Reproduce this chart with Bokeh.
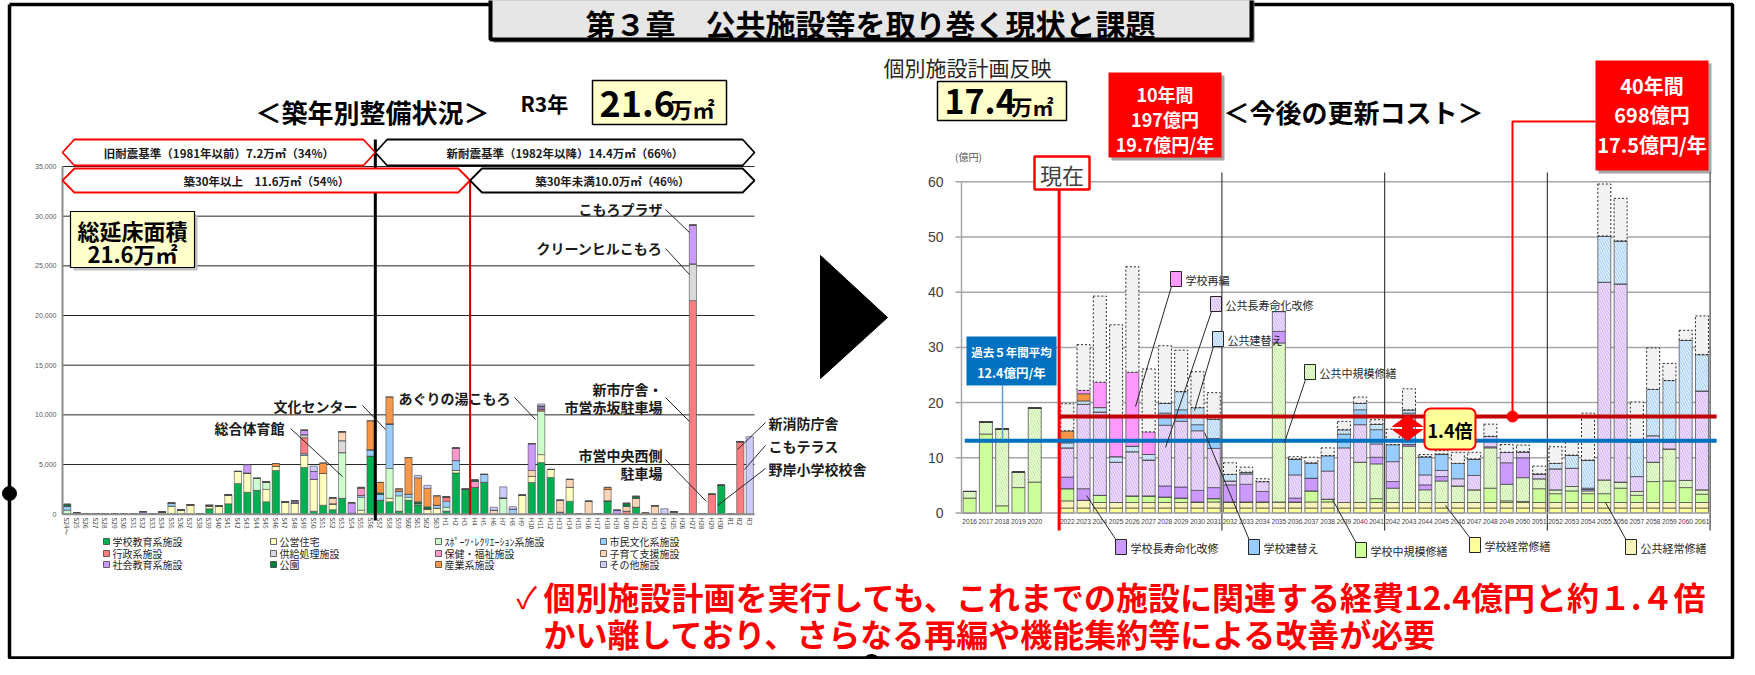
import numpy as np
from bokeh.plotting import figure
from bokeh.models import Range1d, ColumnDataSource
from bokeh.core.properties import value
from bokeh.embed import file_html
from bokeh.resources import INLINE

JP = "Noto Sans CJK JP"
NUM = "Liberation Sans"

# ======================= DATA =======================
# ---- Left chart: 築年別整備状況 (延床面積, ㎡) ----
left_labels = (["S24～"] + ["S%d" % i for i in range(25, 64)]
               + ["H%d" % i for i in range(1, 31)] + ["R1", "R2", "R3"])
left_ticks = [0, 5000, 10000, 15000, 20000, 25000, 30000, 35000]
left_tick_labels = ["0", "5,000", "10,000", "15,000", "20,000", "25,000", "30,000", "35,000"]

school = {"S39": 550, "S41": 1050, "S42": 3100, "S43": 2200, "S44": 2400, "S45": 1250,
          "S46": 4400, "S49": 4700, "S50": 300, "S51": 900, "S52": 450, "S53": 1600,
          "S54": 100, "S56": 5850, "S57": 1400, "S58": 1250, "S59": 300, "S60": 1400,
          "S61": 950, "H1": 300, "H2": 4150, "H3": 2500, "H4": 2700, "H5": 3200,
          "H10": 3200, "H11": 5200, "H12": 3700, "H14": 1300, "H18": 1350, "H21": 700,
          "H30": 2900}
housing = {"S25": 100, "S34": 200, "S35": 800, "S36": 450, "S37": 950, "S39": 300,
           "S40": 850, "S41": 900, "S42": 1200, "S43": 1950, "S45": 1250, "S46": 400,
           "S47": 1250, "S48": 1150, "S49": 1250, "S50": 3200, "S51": 3200, "S52": 600,
           "S55": 400, "S58": 350, "S62": 550, "S63": 600, "H2": 250, "H9": 1900,
           "H10": 600, "H11": 800, "H12": 800, "H14": 1400}
sports = {"S24～": 400, "S44": 1200, "S45": 750, "S53": 4600, "S55": 1300, "S58": 3000,
          "S59": 1550, "S60": 300, "S61": 150, "H1": 400, "H7": 1650, "H11": 4400, "H25": 250}
culture = {"S24～": 400, "S35": 300, "S49": 150, "S55": 200, "S56": 650, "S57": 600,
           "S58": 4500, "S59": 450, "S60": 300, "S63": 300, "H1": 600, "H2": 1000,
           "H5": 800, "H8": 500, "H13": 200}
admin = {"S49": 1600, "H1": 450, "H11": 200, "H20": 300, "H27": 21500, "H29": 2000, "R2": 7300}
supply = {"S49": 300, "S53": 1200, "H27": 3700}
health = {"S55": 700, "H2": 1250, "H4": 600}
childcare = {"S52": 600, "S53": 900, "H6": 400, "H10": 600, "H13": 1200, "H14": 800,
             "H16": 1300, "H18": 1150, "H20": 500, "H21": 900, "H23": 850}
social = {"S32": 250, "S43": 850, "S48": 200, "S49": 450, "S50": 800, "S54": 1050,
          "H10": 2700, "H11": 200, "H19": 400, "H27": 3900}
park = {"S24～": 200, "S39": 50, "S57": 150, "S61": 150, "S62": 200, "H4": 150,
        "H11": 100, "H20": 300, "H21": 200}
industry = {"S46": 300, "S51": 1050, "S55": 100, "S56": 2900, "S57": 1050, "S58": 2700,
            "S59": 250, "S60": 3700, "S61": 2400, "S62": 1850, "S63": 950, "H18": 200, "H22": 150}
other = {"S50": 550, "S61": 250, "S62": 300, "H6": 300, "H7": 1100, "H8": 250,
         "H11": 200, "H24": 550, "H26": 50, "R3": 7800}

left_names = ["学校教育系施設", "公営住宅", "ｽﾎﾟｰﾂ･ﾚｸﾘｴｰｼｮﾝ系施設", "市民文化系施設",
              "行政系施設", "供給処理施設", "保健・福祉施設", "子育て支援施設",
              "社会教育系施設", "公園", "産業系施設", "その他施設"]
left_data = [school, housing, sports, culture, admin, supply, health, childcare,
             social, park, industry, other]
left_colors = ["#00b050", "#ffffc0", "#ccffcc", "#99ccff", "#ff7c80", "#d9d9d9",
               "#ff99cc", "#fcd5b4", "#cc99ff", "#00803c", "#f79646", "#ccccff"]

# ---- Right chart: 今後の更新コスト (億円) ----
r_years = [2016, 2017, 2018, 2019, 2020] + list(range(2022, 2062))
r_ticks = [0, 10, 20, 30, 40, 50, 60]
r_sch_reg = [0, 0, 0, 0, 0,
             0.9, 0.9, 0.9, 0.9, 0.9, 0.9, 0.9, 0.9, 0.9, 0.9,
             0.9, 0.9, 0.9, 0.9, 0.9, 0.9, 0.9, 0.9, 0.9, 0.9,
             0.9, 0.9, 0.9, 0.9, 0.9, 0.9, 0.9, 0.9, 0.9, 0.9,
             0.9, 0.9, 0.9, 0.9, 0.9, 0.9, 0.9, 0.9, 0.9, 0.9]
r_pub_reg = [0, 0, 0, 0, 0,
             1.3, 1.4, 1.0, 1.0, 1.0, 1.0, 1.0, 1.0, 1.1, 1.1,
             1.1, 1.1, 1.1, 1.1, 1.1, 1.1, 1.1, 1.0, 1.0, 1.0,
             1.0, 1.0, 1.0, 1.0, 1.0, 1.0, 1.0, 1.0, 1.0, 1.0,
             1.0, 1.0, 1.0, 1.0, 1.0, 1.0, 1.0, 1.0, 1.0, 1.0]
r_sch_mid = [2.7, 14.3, 1.3, 4.6, 5.6,
             2.2, 0, 1.3, 0, 1.2, 1.2, 1.0, 0.8, 0, 0.6,
             0, 0, 0, 0, 0, 2.0, 0.5, 0, 0, 0.7,
             0, 0, 0, 0, 0, 0, 2.6, 0.3, 0.2, 2.5,
             1.6, 2.1, 1.6, 1.6, 2.6, 1.3, 3.8, 3.9, 2.7, 1.5]
r_pub_mid = [1.2, 2.2, 13.9, 2.8, 13.4,
             0, 0, 0, 0, 0, 0, 0, 0, 0, 0,
             0, 0, 0, 28.8, 0, 0, 0, 0, 7.3, 6.3,
             2.6, 10.2, 2.3, 3.9, 3.0, 2.3, 7.3, 3.0, 4.3, 1.8,
             0.7, 0.8, 0.5, 2.5, 1.1, 0.7, 3.5, 5.8, 1.3, 0.8]
r_sch_long = [0, 0, 0, 0, 0,
              2.1, 2.1, 0, 0, 0, 0, 2.0, 2.0, 2.1, 2.0,
              3.1, 3.2, 1.9, 2.1, 0.7, 2.3, 0, 0, 0, 1.2,
              1.2, 0.3, 0.9, 0.8, 0, 0, 0.2, 3.9, 3.6, 0,
              0, 0, 0.3, 0, 0, 0, 0, 0, 0, 0]
r_pub_long = [0, 0, 0, 0, 0,
              5.3, 15.3, 15.1, 7.3, 8.0, 6.5, 11.0, 11.9, 10.8, 7.1,
              0.7, 1.9, 1.8, 3.6, 4.2, 0, 5.1, 9.9, 6.8, 2.4,
              3.6, 0, 1.8, 1.1, 1.3, 2.6, 1.9, 1.9, 1.1, 0.9,
              3.8, 3.3, 0, 35.8, 35.9, 2.7, 4.8, 1.2, 11.4, 17.9]
r_sch_reb = [0, 0, 0, 0, 0,
             0, 0, 0, 0, 0, 0, 2.2, 2.1, 1.1, 1.8,
             0, 0, 0, 0, 2.9, 2.8, 2.8, 2.5, 2.7, 2.6,
             3.1, 5.7, 3.3, 3.0, 2.8, 3.0, 0, 0, 0, 0,
             0, 0, 0.2, 0, 0, 0, 0, 0.4, 0, 0]
r_pub_reb = [0, 0, 0, 0, 0,
             0.9, 0.6, 0.8, 1.0, 1.0, 1.0, 1.8, 3.3, 3.1, 3.5,
             1.2, 0.3, 0, 0, 0, 0, 0, 0.8, 1.2, 1.0,
             0, 0.6, 0, 0, 0, 0, 0, 0, 0, 0,
             1.0, 2.4, 5.1, 8.4, 7.8, 6.2, 8.4, 10.8, 14.0, 6.6]
r_other = [0, 0, 0, 0, 0,
           2.2, 1.3, 0, 0, 0, 0, 0, 0, 0, 0,
           0, 0, 0, 0, 0, 0, 0, 0, 0, 0,
           0, 0, 0, 0, 0, 0, 0, 0, 0, 0,
           0, 0, 0, 0, 0, 0, 0, 0, 0, 0]
r_reorg = [0, 0, 0, 0, 0,
           0, 0.6, 4.6, 7.2, 13.4, 4.1, 0, 0, 0, 0,
           0, 0, 0, 0, 0, 0, 0, 0, 0, 0,
           0, 0, 0, 0, 0, 0, 0, 0, 0, 0,
           0, 0, 0, 0, 0, 0, 0, 0, 0, 0]
r_plan = [0, 0, 0, 0, 0,
          19.8, 30.5, 39.3, 34.1, 44.6, 26.1, 30.3, 29.5, 25.6, 21.8,
          9.1, 8.3, 6.2, 0, 10.2, 10.1, 11.8, 16.6, 21.0, 16.9,
          15.2, 22.5, 10.6, 11.3, 11.0, 11.0, 16.1, 12.4, 12.3, 8.5,
          12.0, 13.2, 18.1, 59.6, 57.0, 20.1, 29.9, 27.1, 33.1, 35.7]
r_names = ["学校経常修繕", "公共経常修繕", "学校中規模修繕", "公共中規模修繕",
           "学校長寿命化改修", "公共長寿命化改修", "学校建替え", "公共建替え", "その他", "学校再編"]
r_data = [r_sch_reg, r_pub_reg, r_sch_mid, r_pub_mid, r_sch_long, r_pub_long,
          r_sch_reb, r_pub_reb, r_other, r_reorg]
r_fill = ["#ffff99", "#ffffd9", "#ccff99", "#eeffdd", "#cc99ff", "#f0e2ff",
          "#99ccff", "#e2f1ff", "#f79646", "#ff99ff"]
r_hatch = [" ", "\\", " ", "\\", " ", "\\", " ", "\\", " ", " "]
r_hcol = ["#ffff99", "#e6dc78", "#ccff99", "#b5e08a", "#cc99ff", "#c9a3f0",
          "#99ccff", "#8fc2f0", "#f79646", "#ff99ff"]
future_avg = 17.5      # 17.5億円/年
past_avg_line = 13.1   # 過去5年間平均 line (12.4億円/年 label)

# ======================= FIGURE =======================
W, H = 1739, 659
PX0, PY0 = 8, 8
p = figure(width=W, height=H, output_backend="svg", toolbar_location=None,
           x_range=Range1d(PX0, PX0 + W), y_range=Range1d(PY0 + H, PY0),
           x_axis_type=None, y_axis_type=None, min_border=0,
           outline_line_color=None, background_fill_color="white",
           border_fill_color="white")


def span_range(d0, d1, p0, p1, lo, hi):
    k = (d1 - d0) / (p1 - p0)
    return Range1d(start=d0 + (lo - p0) * k, end=d0 + (hi - p0) * k)


n_left = len(left_labels)
p.extra_x_ranges = {"lx": span_range(-0.5, n_left - 0.5, 70, 762, PX0, PX0 + W),
                    "rx": span_range(2015.5, 2061.5, 969, 1717.6, PX0, PX0 + W)}
p.extra_y_ranges = {"ly": span_range(0, 35000, 521.7, 174, PY0 + H, PY0),
                    "ry": span_range(0, 60, 520.5, 189.3, PY0 + H, PY0)}


def T(x, y, s, size, color="#000000", bold=False, align="left", baseline="middle",
      angle=0.0, xr="default", yr="default", font=JP):
    xs = list(np.atleast_1d(np.asarray(x, dtype=float)))
    ys = list(np.atleast_1d(np.asarray(y, dtype=float)))
    ss = [s] if isinstance(s, str) else list(s)
    n = max(len(xs), len(ys), len(ss))
    xs = xs * n if len(xs) == 1 else xs
    ys = ys * n if len(ys) == 1 else ys
    ss = ss * n if len(ss) == 1 else ss
    p.text(x=xs, y=ys, text=ss, text_font=value(font),
           text_font_size=value("%gpx" % size),
           text_font_style="bold" if bold else "normal", text_color=color,
           text_align=align, text_baseline=baseline, angle=angle,
           x_range_name=xr, y_range_name=yr)


def box(l, r, t, b, fill, line=None, lw=1.0, shadow=None, **kw):
    if shadow:
        p.quad(left=[l + 3], right=[r + 3], top=[t + 3], bottom=[b + 3],
               fill_color=shadow, line_color=None)
    p.quad(left=[l], right=[r], top=[t], bottom=[b], fill_color=fill,
           line_color=line, line_width=lw, **kw)


def rrect(l, r, t, b, rad, n=8):
    xs, ys = [], []
    for cx, cy, a0 in [(r - rad, t + rad, -90), (r - rad, b - rad, 0),
                       (l + rad, b - rad, 90), (l + rad, t + rad, 180)]:
        for a in np.linspace(a0, a0 + 90, n):
            xs.append(cx + rad * np.cos(np.radians(a)))
            ys.append(cy + rad * np.sin(np.radians(a)))
    return xs, ys


# ---------------- outer frame & title ----------------
p.line([17, 17, 1740, 1740, 17], [12, 665.5, 665.5, 12, 12], line_color="black", line_width=3.5)
p.circle(x=[17], y=[501], radius=7, fill_color="black", line_color="black")
p.circle(x=[879], y=[671], radius=9, fill_color="black", line_color="black")
box(498, 1259, -6, 47, "#e7e6e6", "black", 4, shadow="#6f6f6f")
T(878, 30, "第３章　公共施設等を取り巻く現状と課題", 30, bold=True, align="center")

# ---------------- left headings ----------------
T(263, 119, "＜築年別整備状況＞", 26, bold=True)
T(528, 110, "R3年", 21, bold=True)
box(600, 734, 88, 132, "#ffffcc", "black", 1.5)
T(607, 111, "21.6", 36, bold=True)
T(678, 115, "万㎡", 22, bold=True)

# ---------------- left chart ----------------
p.segment(x0=[-0.5] * 7, y0=left_ticks[1:], x1=[n_left - 0.5] * 7, y1=left_ticks[1:],
          line_color="#262626", line_width=1, x_range_name="lx", y_range_name="ly")
T(64, left_ticks, left_tick_labels, 7, color="#595959", align="right", yr="ly", font=NUM)

lkeys = ["l%d" % i for i in range(len(left_data))]
lsrc = ColumnDataSource(dict(x=list(range(n_left)),
                             **{k: [d.get(lab, 0) for lab in left_labels]
                                for k, d in zip(lkeys, left_data)}))
p.vbar_stack(lkeys, x="x", width=0.76, source=lsrc, fill_color=left_colors,
             line_color="#4d4d4d", line_width=0.6, x_range_name="lx", y_range_name="ly")

p.segment(x0=[-0.5], y0=[0], x1=[n_left - 0.5], y1=[0], line_color="#8c8c8c",
          line_width=2, x_range_name="lx", y_range_name="ly")
p.segment(x0=[70], y0=[174], x1=[70], y1=[522], line_color="#8c8c8c", line_width=2)

T(list(range(n_left)), 525, left_labels, 6.5, color="#404040", angle=-np.pi / 2,
  xr="lx", baseline="middle")

b_new = left_labels.index("S57") - 0.5      # 1981 / 1982
b_30 = left_labels.index("H4") - 0.5        # 築30年
b_lo, b_hi = -0.5, n_left - 0.5
p.segment(x0=[b_new], y0=[147], x1=[b_new], y1=[528], line_color="black",
          line_width=3, x_range_name="lx")
p.segment(x0=[b_30], y0=[187], x1=[b_30], y1=[522], line_color="#c00000",
          line_width=2, x_range_name="lx")

d_in = 1.25


def hexa(a, b, t, u):
    c = (t + u) / 2
    return [a, a + d_in, b - d_in, b, b - d_in, a + d_in], [c, t, t, c, u, u]


bans = [(b_lo, b_new, 147, 173, "#ff0000", "旧耐震基準（1981年以前）7.2万㎡（34%）"),
        (b_new, b_hi, 147, 173, "#000000", "新耐震基準（1982年以降）14.4万㎡（66%）"),
        (b_lo, b_30, 176, 200, "#ff0000", "築30年以上　11.6万㎡（54%）"),
        (b_30, b_hi, 176, 200, "#000000", "築30年未満10.0万㎡（46%）")]
for a, b, t, u, col, lab in bans:
    hx, hy = hexa(a, b, t, u)
    p.patch(hx, hy, fill_color="white", line_color=col, line_width=1.8, x_range_name="lx")
    T((a + b) / 2, (t + u) / 2, lab, 11.5, color="#1a1a1a", bold=True, align="center", xr="lx")

# 総延床面積 box
box(78, 202, 219, 275, "#ffffcc", "black", 1.2, shadow="#bfbfbf")
T(140, 237, "総延床面積", 22, bold=True, align="center")
T(140, 260, "21.6万㎡", 22, bold=True, align="center")

# annotations
ann_left = [("こもろプラザ", 670, 216, "right"), ("クリーンヒルこもろ", 670, 255, "right"),
            ("文化センター", 365, 413, "right"), ("総合体育館", 292, 435, "right"),
            ("あぐりの湯こもろ", 518, 405, "right"), ("新市庁舎・", 670, 396, "right"),
            ("市営赤坂駐車場", 670, 414, "right"), ("市営中央西側", 670, 462, "right"),
            ("駐車場", 670, 480, "right"), ("新消防庁舎", 776, 430, "left"),
            ("こもテラス", 776, 453, "left"), ("野岸小学校校舎", 776, 476, "left")]
lead_left = [(673, 217, 697, 240), (673, 256, 697, 282), (370, 413, 393, 437),
             (298, 436, 350, 484), (522, 405, 543, 427), (673, 405, 697, 429),
             (673, 467, 714, 509), (773, 430, 745, 457), (773, 453, 752, 477),
             (773, 476, 725, 513)]
p.segment(x0=[l[0] for l in lead_left], y0=[l[1] for l in lead_left],
          x1=[l[2] for l in lead_left], y1=[l[3] for l in lead_left],
          line_color="#262626", line_width=1)
for s, x, y, al in ann_left:
    T(x, y, s, 14, color="#1a1a1a", bold=True, align=al)

# legend (left)
leg_cols = [111, 278, 443, 608]
leg_rows = [549, 561, 572]
for i, (nm, col) in enumerate(zip(left_names, left_colors)):
    r_, c_ = divmod(i, 4)
    x, y = leg_cols[c_], leg_rows[r_]
    box(x, x + 6, y - 3, y + 3, col, "#404040", 0.8)
    T(x + 9, y, nm, 10, color="#262626")

# big arrow
p.patch([828, 895, 828], [263, 325, 386], fill_color="black", line_color="black")

# ---------------- right headings ----------------
T(891, 74, "個別施設計画反映", 21, color="#262626")
box(945, 1074, 89, 128, "#ffffcc", "black", 1.5)
T(952, 109, "17.4", 34, bold=True)
T(1019, 113, "万㎡", 21, bold=True)
T(1231, 119, "＜今後の更新コスト＞", 26, bold=True)

box(1116, 1229, 80, 165, "#ff0000", None, shadow="#a6a6a6")
for yy, s in zip([101, 126, 151], ["10年間", "197億円", "19.7億円/年"]):
    T(1172.5, yy, s, 18, color="white", bold=True, align="center")
box(1603, 1716, 68, 178, "#ff0000", None, shadow="#a6a6a6")
for yy, s in zip([93, 122, 152], ["40年間", "698億円", "17.5億円/年"]):
    T(1659.5, yy, s, 20, color="white", bold=True, align="center")

# ---------------- right chart ----------------
p.segment(x0=[2015.5] * 6, y0=r_ticks[1:], x1=[2061.5] * 6, y1=r_ticks[1:],
          line_color="#a6a6a6", line_width=1.5, x_range_name="rx", y_range_name="ry")
p.segment(x0=[963] * 7, y0=r_ticks, x1=[969] * 7, y1=r_ticks, line_color="#a6a6a6",
          line_width=1.5, y_range_name="ry")
T(951, r_ticks, [str(t) for t in r_ticks], 14, color="#404040", align="right",
  yr="ry", font=NUM)
T(976, 164, "(億円)", 10, color="#595959", align="center")
decade_marks = [2031.5, 2041.5, 2051.5, 2061.5]
p.segment(x0=decade_marks, y0=[180] * 4, x1=decade_marks, y1=[538] * 4,
          line_color="#404040", line_width=1.2, x_range_name="rx")

rkeys = ["r%d" % i for i in range(len(r_data))]
rsrc = ColumnDataSource(dict(x=r_years, **dict(zip(rkeys, r_data))))
p.vbar_stack(rkeys, x="x", width=0.8, source=rsrc, fill_color=r_fill,
             hatch_pattern=r_hatch, hatch_color=r_hcol, hatch_scale=5, hatch_weight=0.8,
             line_color="#404040", line_width=0.7, x_range_name="rx", y_range_name="ry")
solid_top = np.sum(np.array(r_data), axis=0)
plan = np.array(r_plan)
mask = plan > solid_top + 0.05
p.vbar(x=np.array(r_years)[mask], bottom=solid_top[mask], top=plan[mask], width=0.8,
       fill_color="#f2f2f2", line_color="#262626", line_dash="2 2", line_width=1,
       x_range_name="rx", y_range_name="ry")

p.segment(x0=[2015.5], y0=[0], x1=[2061.5], y1=[0], line_color="#a6a6a6",
          line_width=1.5, x_range_name="rx", y_range_name="ry")
p.segment(x0=[969], y0=[189], x1=[969], y1=[521], line_color="#a6a6a6", line_width=1.5)
T(r_years, 529, [str(y) for y in r_years], 6.6, color="#404040", align="center",
  xr="rx", font=NUM)

# 現在
p.segment(x0=[2021.5], y0=[197], x1=[2021.5], y1=[538], line_color="#ff0000",
          line_width=3, x_range_name="rx")
box(1042, 1097, 164, 197, "white", "#ff0000", 2.5)
T(1069.5, 181, "現在", 22, color="#404040", align="center")

# average lines
p.segment(x0=[2021.5], y0=[future_avg], x1=[2061.9], y1=[future_avg],
          line_color="#c00000", line_width=4, x_range_name="rx", y_range_name="ry")
p.segment(x0=[2015.7], y0=[past_avg_line], x1=[2061.9], y1=[past_avg_line],
          line_color="#0070c0", line_width=4, x_range_name="rx", y_range_name="ry")
p.segment(x0=[1010], y0=[393], x1=[1010], y1=[447], line_color="#5b9bd5", line_width=1.5)
box(974, 1064, 344, 393, "#0070c0", None)
T(1019, 359, "過去５年間平均", 11.5, color="white", bold=True, align="center")
T(1019, 380, "12.4億円/年", 12.5, color="white", bold=True, align="center")

# 40-year connector
p.line([1603, 1520, 1520], [129, 129, 424], line_color="#ff0000", line_width=2)
p.circle(x=[1520], y=[424], radius=5.5, fill_color="#ff0000", line_color="#ff0000")

# 1.4倍
p.patch([1415, 1430, 1420, 1420, 1430, 1415, 1400, 1410, 1410, 1400],
        [423, 434, 434, 437, 437, 448, 437, 437, 434, 434],
        fill_color="#ff0000", line_color="#ff0000")
rx_, ry_ = rrect(1432, 1483, 416, 457, 6)
p.patch(rx_, ry_, fill_color="#ffff99", line_color="#ff0000", line_width=2)
T(1457.5, 437, "1.4倍", 18, bold=True, align="center")

# right legend callouts
right_leg = [(9, 1178, 279, 1143, 414), (5, 1218, 304, 1173, 455),
             (7, 1220, 339, 1202, 418), (3, 1312, 372, 1292, 450),
             (4, 1123, 547, 1094, 503), (6, 1256, 547, 1212, 440),
             (2, 1363, 550, 1340, 507), (0, 1477, 545, 1453, 513),
             (1, 1633, 547, 1613, 510)]
for idx, sx, sy, ex, ey in right_leg:
    y0 = sy + 15 if sy < 520 else sy + 1
    p.segment(x0=[sx + 1], y0=[y0], x1=[ex], y1=[ey], line_color="#262626", line_width=1)
for idx, sx, sy, ex, ey in right_leg:
    box(sx, sx + 11, sy, sy + 15, r_fill[idx], "#262626", 1,
        hatch_pattern=r_hatch[idx], hatch_color=r_hcol[idx], hatch_scale=5, hatch_weight=0.8)
    T(sx + 15, sy + 8, r_names[idx], 11, color="#262626")

# ---------------- conclusion ----------------
T(524, 603, "✓", 30, color="#ff0000")
T(551, 603, "個別施設計画を実行しても、これまでの施設に関連する経費12.4億円と約１.４倍",
  32, color="#ff0000", bold=True)
T(551, 640, "かい離しており、さらなる再編や機能集約等による改善が必要", 32,
  color="#ff0000", bold=True)

open("out.html", "w").write(file_html(p, INLINE))
